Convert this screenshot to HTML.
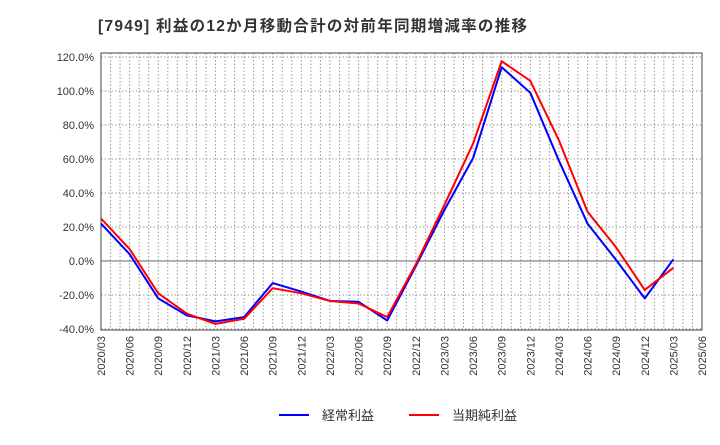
<!DOCTYPE html>
<html><head><meta charset="utf-8"><style>
body{margin:0;background:#fff;font-family:"Liberation Sans","Noto Sans CJK JP",sans-serif;}
svg text{font-family:"Liberation Sans","Noto Sans CJK JP",sans-serif;}
</style></head><body>
<svg id="c" width="720" height="440" xmlns="http://www.w3.org/2000/svg">
<text x="98" y="31" font-size="15.5" font-weight="bold" fill="#333" textLength="429" lengthAdjust="spacing">[7949]  利益の12か月移動合計の対前年同期増減率の推移</text>
<g id="grid"></g><g id="axes"></g><g id="series"></g>
<g>
<line x1="279" y1="415" x2="309" y2="415" stroke="#0000ff" stroke-width="2"/>
<text x="322" y="420" font-size="13" fill="#333">経常利益</text>
<line x1="409" y1="415" x2="439" y2="415" stroke="#ff0000" stroke-width="2"/>
<text x="452" y="420" font-size="13" fill="#333">当期純利益</text>
</g>
</svg>
<script>
const categories=["2020/03","2020/06","2020/09","2020/12","2021/03","2021/06","2021/09","2021/12","2022/03","2022/06","2022/09","2022/12","2023/03","2023/06","2023/09","2023/12","2024/03","2024/06","2024/09","2024/12","2025/03","2025/06"];
const ordinaryValues=[22,4,-22,-32,-35.5,-33,-13,-18,-23.5,-24,-35,-3,30,60.5,114,99,59,22,0.6,-22,1];
const netValues=[25,7,-19,-31,-37,-34,-16,-19,-23.5,-25,-33,-2,33,69,117.5,106,71,29,8,-17,-4];
const yTicks=[-40,-20,0,20,40,60,80,100,120];
const L=101,R=702,T=53,B=330;
function xs(i){return L+i*(R-L)/(categories.length-1);}
function ys(v){return 261-(v)*(261-57)/120;}
const NS="http://www.w3.org/2000/svg";
function mk(tag,attrs,parent){const e=document.createElementNS(NS,tag);for(const k in attrs)e.setAttribute(k,attrs[k]);parent.appendChild(e);return e;}
const grid=document.getElementById('grid'),axes=document.getElementById('axes'),ser=document.getElementById('series');
const nMonths=(categories.length-1)*3;
for(let m=1;m<nMonths;m++){const x=L+m*(R-L)/nMonths;
 const g=mk('line',{x1:x,y1:T,x2:x,y2:B,stroke:'#999','stroke-dasharray':'1.5,2','stroke-width':1},grid);
 
 }
yTicks.forEach(v=>{const y=ys(v);
 const g=mk('line',{x1:L,y1:y,x2:R,y2:y,stroke:v===0?'#666':'#999','stroke-dasharray':v===0?'none':'1.5,2','stroke-width':1},grid);
 
 
 const t=mk('text',{x:L-7,y:y+4,'text-anchor':'end','font-size':11,fill:'#333'},axes);t.textContent=v.toFixed(1)+'%';
 
 });
const fr=mk('rect',{x:L,y:T,width:R-L,height:B-T,fill:'none',stroke:'#444','stroke-width':1},axes);


categories.forEach((c,i)=>{const x=xs(i);
 const t=mk('text',{x:0,y:0,'text-anchor':'end','font-size':11,fill:'#333',transform:`translate(${x+4},${B+6}) rotate(-90)`},axes);t.textContent=c;
 
 });
function line(vals,color,name){const p=mk('polyline',{points:vals.map((v,i)=>xs(i)+','+ys(v)).join(' '),fill:'none',stroke:color,'stroke-width':2,'stroke-linejoin':'round'},ser);
 
 }
line(ordinaryValues,'#0000ff','ordinary-profit-line');
line(netValues,'#ff0000','net-profit-line');
</script>
</body></html>
